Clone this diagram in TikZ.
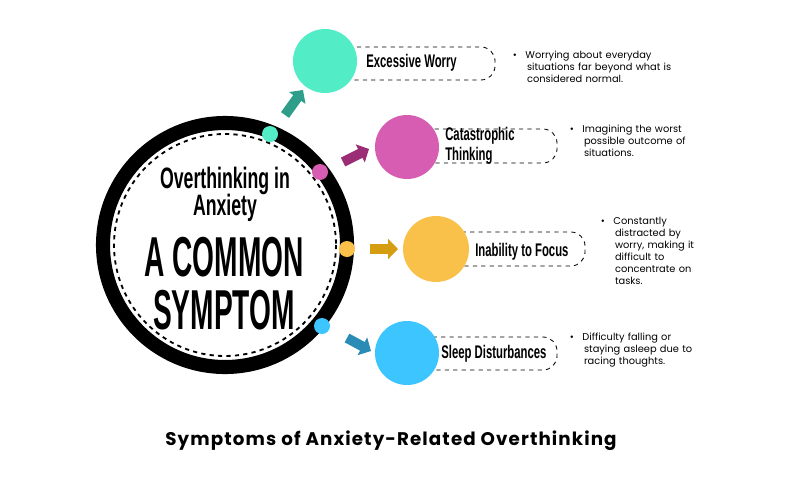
\documentclass[tikz,border=0pt]{standalone}
\usepackage{fontspec}
\usepackage{graphicx}
\setmainfont{Poppins}
\newfontfamily\headfont{Liberation Sans}
\usetikzlibrary{arrows.meta}
\definecolor{tealc}{HTML}{52EDC7}
\definecolor{magc}{HTML}{D65DB1}
\definecolor{yelc}{HTML}{F9C04A}
\definecolor{bluec}{HTML}{3DC5FF}
\definecolor{teald}{HTML}{2E9E8A}
\definecolor{magd}{HTML}{9A2D76}
\definecolor{yeld}{HTML}{D49E10}
\definecolor{blued}{HTML}{2A8BB5}
\newcommand{\cond}[2][0.62]{\scalebox{#1}[1]{\headfont\bfseries #2}}
\tikzset{
  pill/.style={draw,dashed,line width=0.6pt,rounded corners=10pt},
  blob/.style={circle,draw=none,minimum size=#1},
  blockarrow/.style={line width=7pt,-{Triangle[width=14pt,length=7pt]}},
  label/.style={anchor=west,align=left,inner sep=0pt,font=\fontsize{13}{13}\selectfont},
  bullet/.style={anchor=north west,align=left,font=\fontsize{7}{8.6}\selectfont,text width=#1}
}
\begin{document}
\begin{tikzpicture}[x=0.025cm,y=-0.025cm]
\useasboundingbox (0,0) rectangle (800,500);
% pills behind circles
\draw[pill] (325,47) rectangle (495,80);
\draw[pill] (407,129) rectangle (557,163);
\draw[pill] (436,232) rectangle (585,266);
\draw[pill] (407,337) rectangle (557,370);
\fill[white] (300,40) rectangle (340,380);
% main ring
\draw[line width=10pt] (225,245) circle (122);
\draw[dashed,line width=1.3pt] (225,245) circle (111);
% symptom circles
\node[blob=64*0.025cm,fill=tealc] (worry) at (325,61) {};
\node[blob=64*0.025cm,fill=magc] (cata) at (407,147) {};
\node[blob=66*0.025cm,fill=yelc] (focus) at (436,249) {};
\node[blob=64*0.025cm,fill=bluec] (sleep) at (407,353) {};
% dots on ring
\node[blob=16*0.025cm,fill=tealc] (d1) at (270,134) {};
\node[blob=16*0.025cm,fill=magc] (d2) at (320,172) {};
\node[blob=16*0.025cm,fill=yelc] (d3) at (347,249) {};
\node[blob=16*0.025cm,fill=bluec] (d4) at (322,326) {};
% arrows
\coordinate (a1) at (285,115); \coordinate (b1) at (303,90);
\coordinate (a2) at (343,162); \coordinate (b2) at (369,149);
\coordinate (a3) at (370,249); \coordinate (b3) at (398,249);
\coordinate (a4) at (347,338); \coordinate (b4) at (371,351);
\draw[blockarrow,teald] (a1) -- (b1);
\draw[blockarrow,magd] (a2) -- (b2);
\draw[blockarrow,yeld] (a3) -- (b3);
\draw[blockarrow,blued] (a4) -- (b4);
% centre text
\node[font=\fontsize{21}{21}\selectfont,inner sep=0pt] (over1) at (225,181) {\cond[0.6]{Overthinking in}};
\node[font=\fontsize{21}{21}\selectfont,inner sep=0pt] (over2) at (225,208) {\cond[0.6]{Anxiety}};
\node[font=\fontsize{40}{40}\selectfont,inner sep=0pt] (common1) at (224,257) {\cond[0.5]{A COMMON}};
\node[font=\fontsize{40}{40}\selectfont,inner sep=0pt] (common2) at (224,310) {\cond[0.5]{SYMPTOM}};
% labels
\node[label] (l1) at (366,63) {\cond{Excessive Worry}};
\node[label] (l2) at (445,136) {\cond{Catastrophic}};
\node[label] (l2b) at (445,156) {\cond{Thinking}};
\node[label] (l3) at (475,252) {\cond{Inability to Focus}};
\node[label] (l4) at (441,354) {\cond{Sleep Disturbances}};
% descriptions
\node[bullet=4.3cm] (t1) at (508,46) {\textbullet\hspace{6pt}Worrying about everyday\\\hspace{10pt}situations far beyond what is\\\hspace{10pt}considered normal.};
\node[bullet=4cm] (t2) at (565,120) {\textbullet\hspace{6pt}Imagining the worst\\\hspace{10pt}possible outcome of\\\hspace{10pt}situations.};
\node[bullet=4cm] (t3) at (596,212) {\textbullet\hspace{6pt}Constantly\\\hspace{10pt}distracted by\\\hspace{10pt}worry, making it\\\hspace{10pt}difficult to\\\hspace{10pt}concentrate on\\\hspace{10pt}tasks.};
\node[bullet=4cm] (t4) at (565,328) {\textbullet\hspace{6pt}Difficulty falling or\\\hspace{10pt}staying asleep due to\\\hspace{10pt}racing thoughts.};
% caption
\node[font=\fontsize{13}{13}\selectfont\bfseries\addfontfeature{LetterSpace=6}] (caption) at (391,441) {Symptoms of Anxiety-Related Overthinking};
\end{tikzpicture}
\end{document}
